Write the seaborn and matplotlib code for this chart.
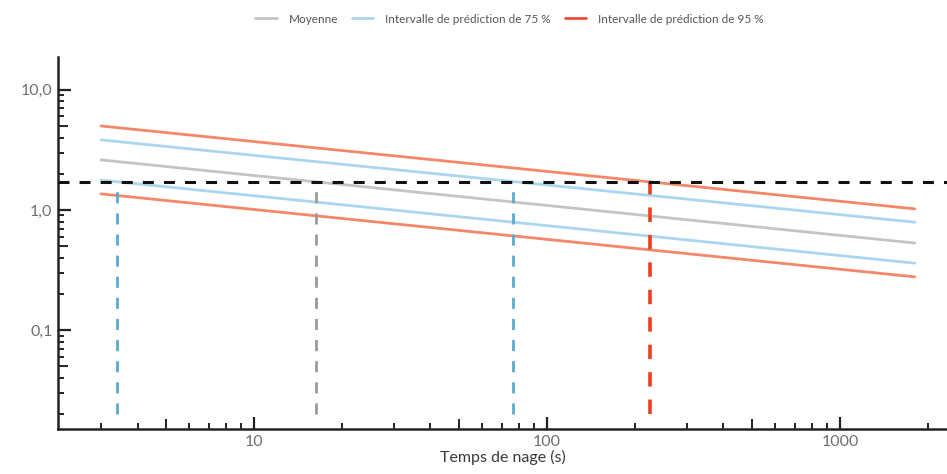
import numpy as np
import pandas as pd
import matplotlib
matplotlib.use("Agg")
import matplotlib.pyplot as plt
import matplotlib.ticker as mticker
import seaborn as sns

# values (log-log straight lines, two ends each)
temps = [3, 1800]
moyenne = [2.61, 0.53]
pi75_haut = [3.83, 0.79]
pi75_bas = [1.77, 0.36]
pi95_haut = [5.0, 1.02]
pi95_bas = [1.36, 0.277]

seuil = 1.71
croisements = [3.4, 16.3, 76.5, 224]
croisement_couleurs = ["#5aaccf", "#9a9a9a", "#5aaccf", "#ee3e1c"]
croisement_lw = [2.0, 2.0, 2.0, 2.6]

noms = ["Moyenne", "Intervalle de prédiction de 75 %", "Intervalle de prédiction de 95 %"]
couleurs = {noms[0]: "#c4c4c4", noms[1]: "#aad6f0", noms[2]: "#f4866a"}

rows = []
for serie, borne, vals in [(noms[0], "m", moyenne),
                           (noms[1], "haut", pi75_haut), (noms[1], "bas", pi75_bas),
                           (noms[2], "haut", pi95_haut), (noms[2], "bas", pi95_bas)]:
    for t, v in zip(temps, vals):
        rows.append({"t": t, "val": v, "serie": serie, "borne": borne})
df = pd.DataFrame(rows)

sns.set_style("ticks")
plt.rcParams["font.family"] = ["Lato", "DejaVu Sans"]

fig = plt.figure(figsize=(9.47, 4.74), dpi=100)
ax = fig.add_axes([0.0612, 0.095, 0.9388, 0.785])

sns.lineplot(data=df, x="t", y="val", hue="serie", units="borne", estimator=None,
             palette=couleurs, hue_order=noms, lw=2, ax=ax)

ax.axhline(seuil, color="#111111", lw=2.2, dashes=(3.6, 3.3), zorder=4)
for x, c, w in zip(croisements, croisement_couleurs, croisement_lw):
    ax.vlines(x, 0.02, seuil, colors=c, lw=w, linestyles=(0, (4.0, 3.6)), zorder=3)

ax.set_xscale("log")
ax.set_yscale("log")
ax.set_xlim(2.14, 2318)
ax.set_ylim(0.015, 18.8)

ax.xaxis.set_major_locator(mticker.FixedLocator([10, 100, 1000]))
ax.xaxis.set_major_formatter(mticker.FixedFormatter(["10", "100", "1000"]))
ax.xaxis.set_minor_locator(mticker.LogLocator(base=10, subs=np.arange(2, 10)))
ax.xaxis.set_minor_formatter(mticker.NullFormatter())
ax.yaxis.set_major_locator(mticker.FixedLocator([0.1, 1, 10]))
ax.yaxis.set_major_formatter(mticker.FixedFormatter(["0,1", "1,0", "10,0"]))
ax.yaxis.set_minor_locator(mticker.LogLocator(base=10, subs=np.arange(2, 10)))
ax.yaxis.set_minor_formatter(mticker.NullFormatter())

ax.tick_params(which="major", direction="in", length=9, width=1.6, color="#222222",
               labelsize=11.5, labelcolor="#707070", pad=4)
ax.tick_params(which="minor", direction="in", length=4, width=1.4, color="#222222")

for sp in ["top", "right"]:
    ax.spines[sp].set_visible(False)
for sp in ["left", "bottom"]:
    ax.spines[sp].set_linewidth(1.8)
    ax.spines[sp].set_color("#222222")

ax.set_xlabel("Temps de nage (s)", fontsize=11.5, color="#3a3a3a", labelpad=1)
ax.set_ylabel("")

leg = ax.legend(loc="upper center", bbox_to_anchor=(0.508, 1.145), ncol=3, frameon=False,
                fontsize=8.5, handlelength=1.8, columnspacing=1.2, handletextpad=1.0)
for txt in leg.get_texts():
    txt.set_color("#555555")
for h in leg.get_lines():
    h.set_linewidth(2)
leg.get_lines()[2].set_color("#e8503a")

fig.canvas.draw()
for axis in (ax.xaxis, ax.yaxis):
    for tick, loc in zip(axis.get_minor_ticks(), axis.get_minorticklocs()):
        m = loc / 10 ** np.floor(np.log10(loc) + 1e-9)
        if abs(m - 5) < 0.01:
            tick.tick1line.set_markersize(7)

fig.savefig("out.png", dpi=100)
